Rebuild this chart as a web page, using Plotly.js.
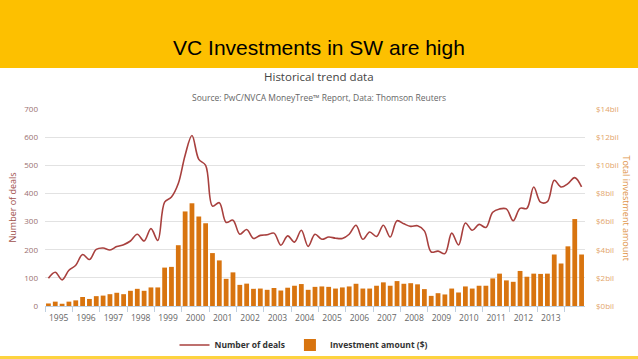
<!DOCTYPE html>
<html>
<head>
<meta charset="utf-8">
<script src="https://cdn.plot.ly/plotly-3.0.1.min.js"></script>
<style>
html,body{margin:0;padding:0;background:#fff;overflow:hidden;}
#chart{width:638px;height:359px;}
</style>
</head>
<body>
<div id="chart"></div>
<script>
// ---- data ----
const quarters = [
  "1995-Q1","1995-Q2","1995-Q3","1995-Q4",
  "1996-Q1","1996-Q2","1996-Q3","1996-Q4",
  "1997-Q1","1997-Q2","1997-Q3","1997-Q4",
  "1998-Q1","1998-Q2","1998-Q3","1998-Q4",
  "1999-Q1","1999-Q2","1999-Q3","1999-Q4",
  "2000-Q1","2000-Q2","2000-Q3","2000-Q4",
  "2001-Q1","2001-Q2","2001-Q3","2001-Q4",
  "2002-Q1","2002-Q2","2002-Q3","2002-Q4",
  "2003-Q1","2003-Q2","2003-Q3","2003-Q4",
  "2004-Q1","2004-Q2","2004-Q3","2004-Q4",
  "2005-Q1","2005-Q2","2005-Q3","2005-Q4",
  "2006-Q1","2006-Q2","2006-Q3","2006-Q4",
  "2007-Q1","2007-Q2","2007-Q3","2007-Q4",
  "2008-Q1","2008-Q2","2008-Q3","2008-Q4",
  "2009-Q1","2009-Q2","2009-Q3","2009-Q4",
  "2010-Q1","2010-Q2","2010-Q3","2010-Q4",
  "2011-Q1","2011-Q2","2011-Q3","2011-Q4",
  "2012-Q1","2012-Q2","2012-Q3","2012-Q4",
  "2013-Q1","2013-Q2","2013-Q3","2013-Q4",
  "2014-Q1","2014-Q2","2014-Q3"
];

// Number of deals per quarter (left axis)
const deals = [
  99, 120, 93, 127,
  145, 183, 165, 201,
  206, 199, 211, 218,
  231, 255, 231, 275,
  233, 369, 387, 435,
  536, 606, 521, 500,
  355, 367, 297, 305,
  255, 272, 240, 251,
  253, 259, 216, 249,
  227, 269, 212, 255,
  237, 245, 241, 240,
  255, 287, 237, 263,
  247, 287, 245, 303,
  292, 283, 285, 267,
  192, 195, 186, 259,
  217, 295, 269, 290,
  279, 333, 345, 345,
  303, 347, 347, 423,
  369, 371, 447, 423,
  435, 456, 423
];

// Investment amount per quarter, $ billions (right axis)
const investment = [
  0.18, 0.31, 0.16, 0.31,
  0.40, 0.64, 0.50, 0.70,
  0.74, 0.84, 0.94, 0.84,
  1.08, 1.22, 1.08, 1.32,
  1.32, 2.73, 2.78, 4.32,
  6.72, 7.30, 6.36, 5.88,
  3.76, 3.24, 1.93, 2.39,
  1.50, 1.59, 1.22, 1.24,
  1.15, 1.28, 1.10, 1.30,
  1.44, 1.56, 1.15, 1.36,
  1.39, 1.36, 1.24, 1.32,
  1.39, 1.58, 1.24, 1.24,
  1.44, 1.68, 1.44, 1.77,
  1.58, 1.62, 1.54, 1.20,
  0.72, 0.91, 0.82, 1.24,
  0.96, 1.39, 1.24, 1.44,
  1.44, 1.96, 2.30, 1.82,
  1.72, 2.49, 2.08, 2.30,
  2.28, 2.30, 3.66, 3.02,
  4.24, 6.18, 3.66
];

const yearLabels = ["1995","1996","1997","1998","1999","2000","2001","2002","2003","2004",
                    "2005","2006","2007","2008","2009","2010","2011","2012","2013"];
const yearBoundaries = [1995,1996,1997,1998,1999,2000,2001,2002,2003,2004,
                        2005,2006,2007,2008,2009,2010,2011,2012,2013,2014];
const dealTicks = [0,100,200,300,400,500,600,700];
const investTicks = [0,2,4,6,8,10,12,14];
const investTickText = ["$0bil","$2bil","$4bil","$6bil","$8bil","$10bil","$12bil","$14bil"];

// quarter label -> position on a continuous year axis (middle of the quarter)
function qx(label){
  const parts = label.split("-Q");
  return Number(parts[0]) + (Number(parts[1]) - 0.5) / 4;
}
const xs = quarters.map(qx);
const yearCentres = yearLabels.map(y => Number(y) + 0.5);

const FONT = "Open Sans, Liberation Sans, Arial, sans-serif";

const lineTrace = {
  type: "scatter", mode: "lines", name: "Number of deals",
  x: xs, y: deals, xaxis: "x", yaxis: "y2",
  line: {color: "#A8403E", width: 1.6, shape: "spline", smoothing: 1},
  hoverinfo: "skip"
};
const barTrace = {
  type: "bar", name: "Investment amount ($)",
  x: xs, y: investment, xaxis: "x", yaxis: "y",
  marker: {color: "#D8740F", line: {width: 0}},
  hoverinfo: "skip"
};

const layout = {
  width: 638, height: 359, autosize: false,
  margin: {l: 45, r: 53, t: 109, b: 53, pad: 0},
  paper_bgcolor: "#ffffff", plot_bgcolor: "rgba(0,0,0,0)",
  font: {family: FONT, color: "#555"},
  showlegend: true,
  bargap: 0.3,
  title: {
    text: "VC Investments in SW are high",
    font: {family: "Liberation Sans, Arial, sans-serif", size: 21, color: "#000"},
    x: 0.5, xref: "container", xanchor: "center",
    y: 1 - 48/359, yref: "container", yanchor: "middle"
  },
  xaxis: {
    range: [1995, 2014.75], fixedrange: true,
    tickmode: "array", tickvals: yearCentres, ticktext: yearLabels,
    ticks: "", showgrid: false, zeroline: false,
    showline: true, linecolor: "#C0D0E0", linewidth: 1,
    tickfont: {family: FONT, size: 8.5, color: "#666"},
    ticklabelstandoff: 4,
    minor: {tickmode: "array", tickvals: yearBoundaries, ticks: "outside", ticklen: 5,
            tickcolor: "#C0D0E0", tickwidth: 1, showgrid: false}
  },
  yaxis: {
    side: "right", range: [0, 14], fixedrange: true,
    tickmode: "array", tickvals: investTicks, ticktext: investTickText,
    showgrid: true, gridcolor: "#E2E2E2", gridwidth: 1,
    zeroline: false, showline: false, ticks: "",
    tickfont: {family: FONT, size: 8, color: "#E3A56A"},
    ticklabelstandoff: 10
  },
  yaxis2: {
    overlaying: "y", side: "left", range: [0, 700], fixedrange: true,
    tickmode: "array", tickvals: dealTicks,
    showgrid: false, zeroline: false, showline: false, ticks: "",
    tickfont: {family: FONT, size: 8, color: "#9A7070"},
    ticklabelstandoff: 6
  },
  legend: {
    orientation: "h", x: (304-45)/540, xanchor: "center",
    yref: "container", y: 1 - 345/359, yanchor: "middle",
    font: {family: FONT, size: 8.5, color: "#333", weight: "bold"},
    bgcolor: "rgba(0,0,0,0)", itemwidth: 30, traceorder: "normal"
  },
  shapes: [
    {type: "rect", xref: "paper", yref: "paper", layer: "below",
     x0: -0.2, x1: 1.2, y0: (306-68)/197, y1: 2.2,
     fillcolor: "#FDC000", line: {width: 0}},
    {type: "rect", xref: "paper", yref: "paper", layer: "below",
     x0: -0.2, x1: 1.2, y0: (306-356)/197, y1: -0.6,
     fillcolor: "#FDD33F", line: {width: 0}}
  ],
  annotations: [
    {text: "Historical trend data", xref: "paper", yref: "paper",
     x: (319-45)/540, y: (306-76)/197, xanchor: "center", yanchor: "middle",
     showarrow: false, font: {family: FONT, size: 11.5, color: "#444"}},
    {text: "Source: PwC/NVCA MoneyTree\u2122 Report, Data: Thomson Reuters", xref: "paper", yref: "paper",
     x: (319-45)/540, y: (306-97)/197, xanchor: "center", yanchor: "middle",
     showarrow: false, font: {family: FONT, size: 8.5, color: "#666"}},
    {text: "Number of deals", xref: "paper", yref: "paper",
     x: (12-45)/540, y: 0.5, xanchor: "center", yanchor: "middle", textangle: -90,
     showarrow: false, font: {family: FONT, size: 9, color: "#A0504C"}},
    {text: "Total investment amount", xref: "paper", yref: "paper",
     x: (626-45)/540, y: 0.5, xanchor: "center", yanchor: "middle", textangle: 90,
     showarrow: false, font: {family: FONT, size: 9, color: "#E0954A"}}
  ]
};

Plotly.newPlot("chart", [lineTrace, barTrace], layout, {displayModeBar: false, staticPlot: true});
</script>
</body>
</html>
